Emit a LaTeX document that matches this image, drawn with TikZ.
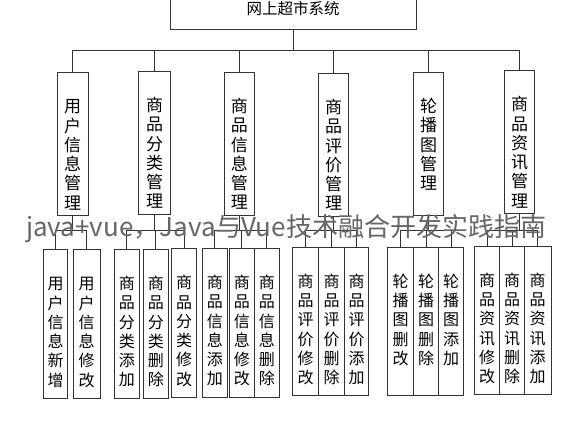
\documentclass[tikz,border=0pt]{standalone}
\usepackage{fontspec}
\newfontfamily\cjk{Noto Sans CJK SC}
\newcommand{\vlabel}[1]{\vtop{\baselineskip=19.3pt\relax\vlabelstep#1\relax}}
\def\vlabelstep#1{\ifx#1\relax\else\hbox to 1em{\hss#1\hss}\expandafter\vlabelstep\fi}

\begin{document}
\begin{tikzpicture}[x=1pt,y=-1pt,
   sysbox/.style={draw=black!80,line width=0.8pt,inner sep=0pt,
      minimum width=246pt,minimum height=42pt,font=\cjk\fontsize{15.5}{18}\selectfont},
   modbox/.style={draw=black!80,line width=0.8pt,inner sep=0pt,anchor=north,
      text height=40pt,text depth=103pt,font=\cjk\fontsize{17}{19.3}\selectfont},
   funcbox/.style={draw=black!80,line width=0.8pt,inner sep=0pt,anchor=north,
      text height=40pt,text depth=108.5pt,font=\cjk\fontsize{16}{19.3}\selectfont},
   link/.style={draw=black!80,line width=0.8pt}]
\clip (0,0) rectangle (577,437);
\fill[white] (0,0) rectangle (577,437);
\coordinate (bus) at (0,50.7);
\coordinate (sub) at (0,230);
% root
\node[sysbox] (sys) at (293,8.3) {网上超市系统};
% modules
\node[modbox,minimum width=31.3pt] (m1) at (72.7,72.3) {\vlabel{用户信息管理}};
\node[modbox,minimum width=31.6pt] (m2) at (154.5,71) {\vlabel{商品分类管理}};
\node[modbox,minimum width=30.7pt] (m3) at (239.3,72) {\vlabel{商品信息管理}};
\node[modbox,minimum width=30.4pt] (m4) at (333.5,73) {\vlabel{商品评价管理}};
\node[modbox,minimum width=30pt] (m5) at (428.7,72) {\vlabel{轮播图管理}};
\node[modbox,minimum width=30.4pt] (m6) at (519.5,70.3) {\vlabel{商品资讯管理}};
% functions
\node[funcbox,minimum width=24.4pt] (f11) at (55.5,249.3) {\vlabel{用户信息新增}};
\node[funcbox,minimum width=26.7pt] (f12) at (86.7,249.3) {\vlabel{用户信息修改}};
\node[funcbox,minimum width=25pt] (f21) at (126.8,249) {\vlabel{商品分类添加}};
\node[funcbox,minimum width=25pt] (f22) at (155.8,249) {\vlabel{商品分类删除}};
\node[funcbox,minimum width=25.4pt] (f23) at (184,248.3) {\vlabel{商品分类修改}};
\node[funcbox,minimum width=25pt] (f31) at (214.8,248) {\vlabel{商品信息添加}};
\node[funcbox,minimum width=25pt] (f32) at (241.8,248) {\vlabel{商品信息修改}};
\node[funcbox,minimum width=25pt] (f33) at (266.8,248) {\vlabel{商品信息删除}};
\node[funcbox,minimum width=26pt] (f41) at (305.7,246.7) {\vlabel{商品评价修改}};
\node[funcbox,minimum width=25.6pt] (f42) at (331.5,246.7) {\vlabel{商品评价删除}};
\node[funcbox,minimum width=24.4pt] (f43) at (356.5,246.7) {\vlabel{商品评价添加}};
\node[funcbox,minimum width=26pt] (f51) at (400.7,246.7) {\vlabel{轮播图删改}};
\node[funcbox,minimum width=25pt] (f52) at (426.2,246.7) {\vlabel{轮播图删除}};
\node[funcbox,minimum width=25pt] (f53) at (451.2,246.7) {\vlabel{轮播图添加}};
\node[funcbox,minimum width=25.4pt] (f61) at (487,245.7) {\vlabel{商品资讯修改}};
\node[funcbox,minimum width=24.6pt] (f62) at (512,245.7) {\vlabel{商品资讯删除}};
\node[funcbox,minimum width=26.7pt] (f63) at (537.7,245.7) {\vlabel{商品资讯添加}};
% connectors
\draw[link] (sys.south) -- (sys.south |- bus);
\draw[link] (m1.north) -- (m1.north |- bus) -- (m6.north |- bus) -- (m6.north);
\foreach \m in {m2,m3,m4,m5}
   \draw[link] (\m.north) -- (\m.north |- bus);
\foreach \m in {m1,m2,m3,m4,m5,m6}
   \draw[link] (\m.south) -- (\m.south |- sub);
\draw[link] (f11.north) -- (f11.north |- sub) -- (f12.north |- sub) -- (f12.north);
\foreach \g in {2,3,4,5,6} {
   \draw[link] (f\g1.north) -- (f\g1.north |- sub) -- (f\g3.north |- sub) -- (f\g3.north);
   \draw[link] (f\g2.north) -- (f\g2.north |- sub);
}
% watermark
\node[anchor=base,inner sep=0pt,text=black!60,font=\cjk\fontsize{26}{26}\selectfont]
   (mark) at (286,236) {java+vue，Java与Vue技术融合开发实践指南};
\end{tikzpicture}
\end{document}
